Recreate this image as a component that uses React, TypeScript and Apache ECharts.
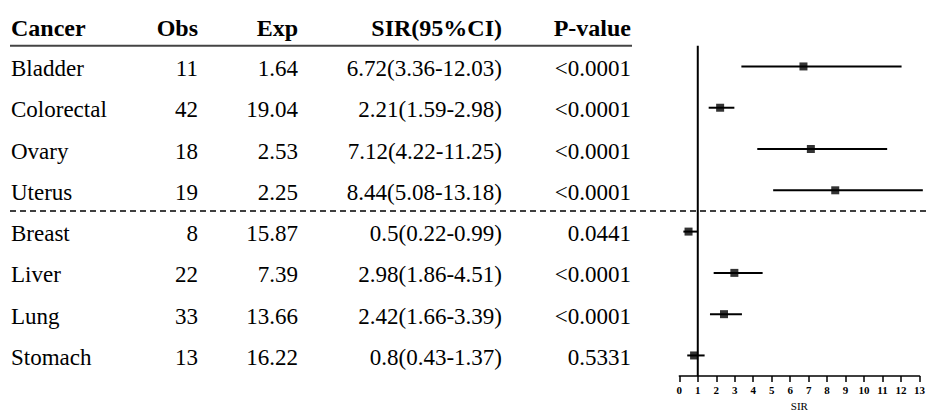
import React, { useEffect, useRef } from "react";
import * as echarts from "echarts";

const headers = ["Cancer", "Obs", "Exp", "SIR(95%CI)", "P-value"];
const cancers = ["Bladder", "Colorectal", "Ovary", "Uterus", "Breast", "Liver", "Lung", "Stomach"];
const observed = [11, 42, 18, 19, 8, 22, 33, 13];
const expected = [1.64, 19.04, 2.53, 2.25, 15.87, 7.39, 13.66, 16.22];
const sir = [6.72, 2.21, 7.12, 8.44, 0.5, 2.98, 2.42, 0.8];
const ciLower = [3.36, 1.59, 4.22, 5.08, 0.22, 1.86, 1.66, 0.43];
const ciUpper = [12.03, 2.98, 11.25, 13.18, 0.99, 4.51, 3.39, 1.37];
const pValues = ["<0.0001", "<0.0001", "<0.0001", "<0.0001", "0.0441", "<0.0001", "<0.0001", "0.5331"];
const xMin = 0;
const xMax = 13;
const xInterval = 1;
const referenceValue = 1;
const groupSplit = 3.5; // between Uterus and Breast

const FONT = "Liberation Serif";

export default function App() {
  const ref = useRef<HTMLDivElement>(null);

  useEffect(() => {
    if (!ref.current) return;
    const chart = echarts.init(ref.current, null, { renderer: "svg" });
    const n = cancers.length;
    const option: any = {
      animation: false,
      backgroundColor: "#fff",
      grid: { left: 679.3, right: 2, top: 45.8, height: 333.3 },
      xAxis: {
        type: "value",
        min: xMin,
        max: xMax,
        interval: xInterval,
        axisLine: { show: true, onZero: false, lineStyle: { color: "#000", width: 1.5 } },
        axisTick: { show: true, length: 6, lineStyle: { color: "#000", width: 1.5 } },
        axisLabel: { color: "#000", fontFamily: FONT, fontWeight: "bold", fontSize: 11, margin: 8 },
        splitLine: { show: false },
        name: "SIR",
        nameLocation: "middle",
        nameGap: 21,
        nameTextStyle: { color: "#000", fontFamily: FONT, fontSize: 11 },
      },
      yAxis: { type: "value", inverse: true, min: -0.5, max: n - 0.5, show: false },
      series: [
        {
          type: "line",
          data: [
            [referenceValue, -0.5],
            [referenceValue, n - 0.5],
          ],
          symbol: "none",
          lineStyle: { color: "#000", width: 2 },
          silent: true,
        },
        {
          type: "custom",
          clip: false,
          data: cancers.map((_, i) => [i, ciLower[i], ciUpper[i]]),
          encode: { x: [1, 2], y: 0 },
          renderItem: (params: any, api: any) => {
            const lo = api.coord([api.value(1), api.value(0)]);
            const hi = api.coord([api.value(2), api.value(0)]);
            return {
              type: "line",
              shape: { x1: lo[0], y1: lo[1], x2: hi[0], y2: hi[1] },
              style: { stroke: "#000", lineWidth: 2 },
            };
          },
        },
        {
          type: "scatter",
          symbol: "rect",
          symbolSize: 8,
          itemStyle: { color: "#000" },
          data: sir.map((v, i) => [v, i]),
          z: 5,
        },
      ],
    };
    chart.setOption(option);

    const yPix = (v: number) => chart.convertToPixel({ yAxisIndex: 0 }, v) as number;
    const colX = [11, 198, 298, 502, 631];
    const colAlign = ["left", "right", "right", "right", "right"];
    const rows = cancers.map((c, i) => [
      c,
      String(observed[i]),
      String(expected[i]),
      `${sir[i]}(${ciLower[i]}-${ciUpper[i]})`,
      pValues[i],
    ]);
    const graphics: any[] = [];
    const headerY = yPix(-1) + 3;
    headers.forEach((h, j) => {
      graphics.push({
        type: "text",
        x: colX[j],
        y: headerY,
        style: {
          text: h,
          fill: "#000",
          fontFamily: FONT,
          fontSize: 24,
          fontWeight: "bold",
          align: colAlign[j],
          verticalAlign: "middle",
        },
      });
    });
    rows.forEach((r, i) => {
      r.forEach((t, j) => {
        graphics.push({
          type: "text",
          x: colX[j],
          y: yPix(i) + 2,
          style: {
            text: t,
            fill: "#000",
            fontFamily: FONT,
            fontSize: 23,
            align: colAlign[j],
            verticalAlign: "middle",
          },
        });
      });
    });
    const topY = yPix(-0.5);
    graphics.push({
      type: "line",
      shape: { x1: 10, y1: topY, x2: 632, y2: topY },
      style: { stroke: "#444", lineWidth: 2 },
    });
    const splitY = yPix(groupSplit);
    graphics.push({
      type: "line",
      shape: { x1: 10, y1: splitY, x2: 928, y2: splitY },
      style: { stroke: "#000", lineWidth: 1.5, lineDash: [6, 4] },
    });
    chart.setOption({ graphic: graphics });

    return () => chart.dispose();
  }, []);

  return (
    <div
      ref={ref}
      style={{ position: "fixed", left: 0, top: 0, width: 928, height: 416, background: "#fff" }}
    />
  );
}
